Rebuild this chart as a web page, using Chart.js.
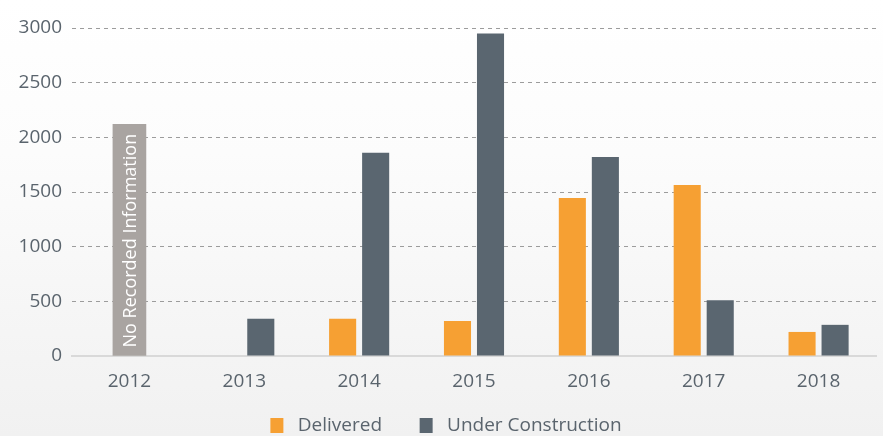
<!DOCTYPE html>
<html>
<head>
<meta charset="utf-8">
<script src="https://cdn.jsdelivr.net/npm/chart.js@4"></script>
<style>
  html, body { margin: 0; padding: 0; background: #ffffff; }
  #wrap { width: 883px; height: 436px; position: relative; }
</style>
</head>
<body>
<div id="wrap"><canvas id="c" width="883" height="436"></canvas></div>
<script>
const categories = ['2012', '2013', '2014', '2015', '2016', '2017', '2018'];
const delivered = [null, null, 340, 320, 1445, 1565, 220];
const underConstruction = [null, 340, 1860, 2950, 1820, 510, 285];
const noRecord = [2120, null, null, null, null, null, null];
const noRecordLabel = 'No Recorded Information';
const yTicks = [0, 500, 1000, 1500, 2000, 2500, 3000];

const FONT = "'Open Sans', sans-serif";
const TEXT = '#5a646d';

const bgPlugin = {
  id: 'bg',
  beforeDraw(chart) {
    const ctx = chart.ctx;
    const g = ctx.createLinearGradient(0, 0, 0, chart.height);
    g.addColorStop(0, '#ffffff');
    g.addColorStop(0.35, '#fcfcfc');
    g.addColorStop(1, '#f1f1f1');
    ctx.save();
    ctx.fillStyle = g;
    ctx.fillRect(0, 0, chart.width, chart.height);
    ctx.restore();
  }
};

const labelPlugin = {
  id: 'noRecordLabel',
  afterDatasetsDraw(chart) {
    const meta = chart.getDatasetMeta(2);
    const ctx = chart.ctx;
    meta.data.forEach((bar, i) => {
      if (noRecord[i] == null) return;
      ctx.save();
      ctx.translate(bar.x, bar.base - 8);
      ctx.rotate(-Math.PI / 2);
      ctx.fillStyle = '#ffffff';
      ctx.font = "18px " + FONT;
      ctx.textAlign = 'left';
      ctx.textBaseline = 'middle';
      ctx.fillText(noRecordLabel, 0, 1);
      ctx.restore();
    });
  }
};

new Chart(document.getElementById('c'), {
  type: 'bar',
  data: {
    labels: categories,
    datasets: [
      { label: 'Delivered', data: delivered, backgroundColor: '#f6a033', barPercentage: 0.82, categoryPercentage: 0.575 },
      { label: 'Under Construction', data: underConstruction, backgroundColor: '#5a6670', barPercentage: 0.82, categoryPercentage: 0.575 },
      { label: noRecordLabel, data: noRecord, backgroundColor: '#a9a4a1', grouped: false, barThickness: 33 }
    ]
  },
  options: {
    responsive: false,
    animation: false,
    devicePixelRatio: 1,
    layout: { padding: { top: 28, right: 7, left: 16, bottom: -9 } },
    plugins: {
      tooltip: { enabled: false },
      legend: {
        position: 'bottom',
        labels: {
          filter: (item) => item.datasetIndex !== 2,
          generateLabels: (chart) => {
            const items = Chart.defaults.plugins.legend.labels.generateLabels(chart);
            items.forEach(it => {
              it.text = it.datasetIndex === 0 ? ' ' + it.text + '       ' : ' ' + it.text;
            });
            return items;
          },
          boxWidth: 13,
          boxHeight: 15,
          padding: 3,
          color: TEXT,
          font: { family: FONT, size: 19 }
        }
      }
    },
    scales: {
      x: {
        afterFit(s) { s.height = 57; },
        grid: { display: false, drawTicks: false },
        border: { display: true, color: '#d9d9d9', width: 2 },
        ticks: { color: TEXT, font: { family: FONT, size: 19 }, padding: 14 }
      },
      y: {
        min: 0,
        max: 3000,
        afterFit(s) { s.width = 56; },
        afterBuildTicks(s) { s.ticks = yTicks.map(v => ({ value: v })); },
        border: { display: false, dash: [4, 4] },
        grid: {
          color: (c) => c.tick && c.tick.value === 0 ? 'rgba(0,0,0,0)' : '#9c9c9c',
          lineWidth: 1,
          drawTicks: false
        },
        ticks: {
          color: TEXT,
          font: { family: FONT, size: 19 },
          padding: 10,
          callback: (v) => String(v)
        }
      }
    }
  },
  plugins: [bgPlugin, labelPlugin]
});
</script>
</body>
</html>
